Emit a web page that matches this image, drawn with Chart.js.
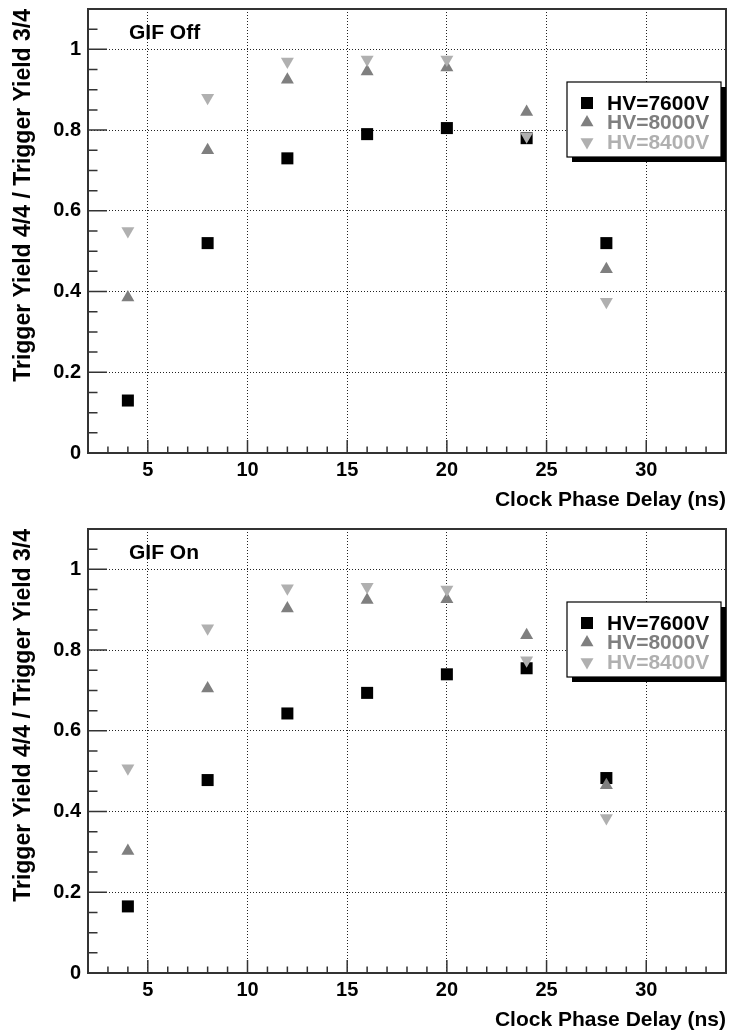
<!DOCTYPE html>
<html>
<head>
<meta charset="utf-8">
<style>
  html, body { margin: 0; padding: 0; background: #fff; overflow: hidden; }
  canvas { display: block; }
</style>
</head>
<body>
<canvas id="gifOff" width="730" height="520"></canvas>
<canvas id="gifOn" width="730" height="520"></canvas>
<script src="https://cdn.jsdelivr.net/npm/chart.js"></script>
<script>
// clock phase delay (ns)
const delays = [4, 8, 12, 16, 20, 24, 28];
const hvLabels = ['HV=7600V', 'HV=8000V', 'HV=8400V'];

// GIF off
const off7600 = [0.13, 0.52, 0.73, 0.79, 0.805, 0.78, 0.52];
const off8000 = [0.385, 0.75, 0.925, 0.945, 0.955, 0.845, 0.455];
const off8400 = [0.55, 0.88, 0.97, 0.975, 0.975, 0.785, 0.375];

// GIF on
const on7600 = [0.165, 0.478, 0.643, 0.694, 0.74, 0.755, 0.483];
const on8000 = [0.302, 0.705, 0.903, 0.924, 0.926, 0.837, 0.465];
const on8400 = [0.507, 0.854, 0.953, 0.957, 0.95, 0.775, 0.384];

const xTickValues = [5, 10, 15, 20, 25, 30];
const yTickValues = [0, 0.2, 0.4, 0.6, 0.8, 1];

const FONT = '"Liberation Sans", Arial, Helvetica, sans-serif';
const colors = ['#000000', '#7f7f7f', '#b0b0b0'];
const styles = [
  { pointStyle: 'rect', radius: 8.5, rotation: 0 },
  { pointStyle: 'triangle', radius: 7.5, rotation: 0 },
  { pointStyle: 'triangle', radius: 7.5, rotation: 180 }
];

// ROOT-like frame, inner ticks, pad label and legend box
const rootStyle = {
  id: 'rootStyle',
  beforeDatasetsDraw(chart) {
    const { ctx, chartArea: a, scales: { x, y } } = chart;
    ctx.save();
    ctx.strokeStyle = '#333';
    ctx.lineWidth = 1.5;
    ctx.beginPath();
    for (let v = 3; v <= 33; v++) {
      const px = x.getPixelForValue(v);
      const len = v % 5 === 0 ? 13 : 6.5;
      ctx.moveTo(px, a.bottom);
      ctx.lineTo(px, a.bottom - len);
    }
    for (let i = 1; i <= 21; i++) {
      const py = y.getPixelForValue(i * 0.05);
      const len = i % 4 === 0 ? 19 : 9.5;
      ctx.moveTo(a.left, py);
      ctx.lineTo(a.left + len, py);
    }
    ctx.stroke();
    ctx.lineWidth = 2;
    ctx.strokeRect(a.left, a.top, a.right - a.left, a.bottom - a.top);
    ctx.restore();
  },
  afterDatasetsDraw(chart, args, opts) {
    const { ctx, chartArea: a } = chart;
    ctx.save();
    // pad label
    ctx.fillStyle = '#000';
    ctx.font = 'bold 21px ' + FONT;
    ctx.textAlign = 'left';
    ctx.textBaseline = 'middle';
    ctx.fillText(opts.label, a.left + 41, a.top + 24);

    // legend box with shadow
    const bx = a.right - 159, by = a.top + 73, bw = 154, bh = 75;
    ctx.fillStyle = '#000';
    ctx.fillRect(bx + 5, by + 5, bw, bh);
    ctx.fillStyle = '#fff';
    ctx.fillRect(bx, by, bw, bh);
    ctx.strokeStyle = '#000';
    ctx.lineWidth = 1.2;
    ctx.strokeRect(bx, by, bw, bh);
    chart.data.datasets.forEach((ds, i) => {
      const ry = by + 21 + i * 19.5;
      ctx.fillStyle = ds.pointBackgroundColor;
      Chart.helpers.drawPoint(ctx, {
        pointStyle: ds.pointStyle, rotation: ds.pointRotation,
        radius: ds.pointRadius, borderWidth: 0
      }, bx + 20, ry);
      ctx.fillStyle = ds.pointBackgroundColor;
      ctx.font = 'bold 21px ' + FONT;
      ctx.textAlign = 'left';
      ctx.textBaseline = 'middle';
      ctx.fillText(ds.label, bx + 40, ry + 1);
    });
    ctx.restore();
  }
};

function noPad(s) {
  s.paddingTop = 0; s.paddingBottom = 0; s.paddingLeft = 0; s.paddingRight = 0;
}

function makePanel(id, label, series) {
  const datasets = series.map((vals, i) => ({
    label: hvLabels[i],
    data: delays.map((d, k) => ({ x: d, y: vals[k] })),
    pointStyle: styles[i].pointStyle,
    pointRadius: styles[i].radius,
    pointRotation: styles[i].rotation,
    pointBackgroundColor: colors[i],
    pointBorderWidth: 0,
    showLine: false,
    order: 3 - i
  }));
  new Chart(document.getElementById(id), {
    type: 'scatter',
    data: { datasets },
    plugins: [rootStyle],
    options: {
      responsive: false,
      animation: false,
      layout: { autoPadding: false, padding: { top: 9, right: 4, left: 0, bottom: 0 } },
      plugins: {
        legend: { display: false },
        tooltip: { enabled: false },
        rootStyle: { label }
      },
      scales: {
        x: {
          type: 'linear', min: 2, max: 34,
          afterBuildTicks: s => { s.ticks = xTickValues.map(v => ({ value: v })); },
          afterFit: s => { s.height = 67; noPad(s); },
          grid: { color: '#222', lineWidth: 1, drawTicks: false },
          border: { display: false, dash: [1, 2] },
          ticks: { color: '#000', padding: 5, maxRotation: 0, autoSkip: false,
                   callback: v => String(v),
                   font: { family: FONT, size: 20, weight: 'bold' } },
          title: { display: true, text: 'Clock Phase Delay (ns)', align: 'end', color: '#000',
                   padding: { top: 0, bottom: 7 },
                   font: { family: FONT, size: 21, weight: 'bold' } }
        },
        y: {
          type: 'linear', min: 0, max: 1.1,
          afterBuildTicks: s => { s.ticks = yTickValues.map(v => ({ value: v })); },
          afterFit: s => { s.width = 88; noPad(s); },
          grid: { color: '#222', lineWidth: 1, drawTicks: false },
          border: { display: false, dash: [1, 2] },
          ticks: { color: '#000', padding: 7,
                   callback: v => String(Number(v.toFixed(1))),
                   font: { family: FONT, size: 20, weight: 'bold' } },
          title: { display: true, text: 'Trigger Yield 4/4 / Trigger Yield 3/4', align: 'end', color: '#000',
                   padding: { top: 10, bottom: 0 },
                   font: { family: FONT, size: 23, weight: 'bold' } }
        }
      }
    }
  });
}

makePanel('gifOff', 'GIF Off', [off7600, off8000, off8400]);
makePanel('gifOn', 'GIF On', [on7600, on8000, on8400]);
</script>
</body>
</html>
